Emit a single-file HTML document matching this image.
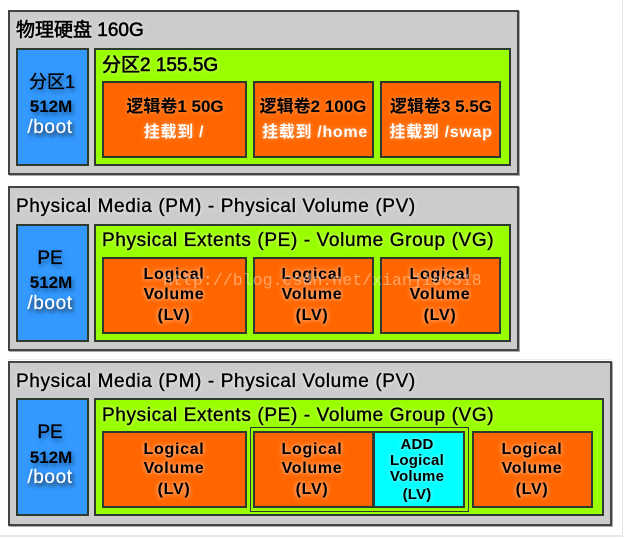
<!DOCTYPE html>
<html>
<head>
<meta charset="utf-8">
<style>
html,body{margin:0;padding:0;background:#fff;width:625px;height:538px;overflow:hidden}
body{position:relative;font-family:"Liberation Sans","Noto Sans CJK SC",sans-serif;color:#000}
.b{position:absolute;box-sizing:border-box;border:2px solid #2e3a2e}
.p{background:#ccc;left:8px;border:2px solid #444;box-shadow:1px 1px 0 #aaa}
.u{background:#3399ff;left:16px;width:73px;height:118px}
.g{background:#99ff00;left:94px;height:118px}
.o{background:#ff6600;height:77px}
.c{background:#00ffff}
.t{position:absolute;white-space:nowrap;transform:translateX(-50%);line-height:1;-webkit-text-stroke:.3px #000}
.l{position:absolute;white-space:nowrap;line-height:1;-webkit-text-stroke:.35px #000}
.h{font-size:19px;text-shadow:0 0 4px #e6e6e6,0 0 4px #e6e6e6;letter-spacing:.62px}
.s{font-size:19px;text-shadow:0 0 4px #ccff66,0 0 4px #ccff66;letter-spacing:.63px}
.h.cn,.s.cn{letter-spacing:0;-webkit-text-stroke:.6px #000}
.w{color:#fff;-webkit-text-stroke:.2px #fff;text-shadow:2px 3px 4px #222}
.d{text-shadow:2px 3px 4px #1c5a9c}
.v{font-size:16px;font-weight:bold;-webkit-text-stroke:0;letter-spacing:.7px;text-shadow:0 0 5px #ffb080,0 0 5px #ffb080}
.a{font-size:15px;font-weight:bold;-webkit-text-stroke:0;letter-spacing:.2px;text-shadow:0 0 4px #aaffff}
.z{font-size:17px;-webkit-text-stroke:0;font-weight:bold;text-shadow:0 0 5px #ffa060}
.y{font-size:16px;letter-spacing:.7px;-webkit-text-stroke:0;font-weight:bold}
.n{font-size:17px;font-weight:bold;-webkit-text-stroke:0}
.r{font-size:19px;letter-spacing:.6px}
.wm{position:absolute;left:163px;top:271px;font:16.6px "Liberation Mono",monospace;color:rgba(255,225,200,.5);white-space:nowrap}
</style>
</head>
<body>
<div style="position:absolute;left:622px;top:0;width:1px;height:536px;background:#e4e4e4"></div>
<div style="position:absolute;left:0;top:535px;width:623px;height:2px;background:#e8e8e8"></div>
<div style="position:absolute;left:8px;top:359px;width:604px;height:1px;background:#eee"></div>

<!-- panel 1 -->
<div class="b p" style="top:10px;width:511px;height:165px"></div>
<div class="l h cn" style="left:16px;top:21px">物理硬盘 160G</div>
<div class="b u" style="top:48px"></div>
<div class="b g" style="top:48px;width:417px"></div>
<div class="l s cn" style="left:102px;top:56px">分区2 155.5G</div>
<div class="b o" style="left:102px;top:81px;width:145px"></div>
<div class="b o" style="left:253px;top:81px;width:121px"></div>
<div class="b o" style="left:380px;top:81px;width:121px"></div>
<div class="t d" style="left:52px;top:73px;font-size:18px">分区1</div>
<div class="t d n" style="left:51px;top:98px">512M</div>
<div class="t w r" style="left:50px;top:118px">/boot</div>
<div class="t z" style="left:175px;top:98px">逻辑卷1 50G</div>
<div class="t z w y" style="left:174px;top:125px">挂载到 /</div>
<div class="t z" style="left:313px;top:98px">逻辑卷2 100G</div>
<div class="t z w y" style="left:315px;top:125px">挂载到 /home</div>
<div class="t z" style="left:441px;top:98px">逻辑卷3 5.5G</div>
<div class="t z w y" style="left:441px;top:125px">挂载到 /swap</div>

<!-- panel 2 -->
<div class="b p" style="top:186px;width:511px;height:165px"></div>
<div class="l h" style="left:16px;top:197px">Physical Media (PM) - Physical Volume (PV)</div>
<div class="b u" style="top:224px"></div>
<div class="b g" style="top:224px;width:417px"></div>
<div class="l s" style="left:102px;top:231px">Physical Extents (PE) - Volume Group (VG)</div>
<div class="b o" style="left:102px;top:257px;width:145px"></div>
<div class="b o" style="left:253px;top:257px;width:121px"></div>
<div class="b o" style="left:380px;top:257px;width:121px"></div>
<div class="t d r" style="left:50px;top:249px;letter-spacing:0">PE</div>
<div class="t d n" style="left:51px;top:274px">512M</div>
<div class="t w r" style="left:50px;top:294px">/boot</div>
<div class="t v" style="left:174px;top:267px">Logical</div>
<div class="t v" style="left:174px;top:287px">Volume</div>
<div class="t v" style="left:174px;top:308px">(LV)</div>
<div class="t v" style="left:312px;top:267px">Logical</div>
<div class="t v" style="left:312px;top:287px">Volume</div>
<div class="t v" style="left:312px;top:308px">(LV)</div>
<div class="t v" style="left:440px;top:267px">Logical</div>
<div class="t v" style="left:440px;top:287px">Volume</div>
<div class="t v" style="left:440px;top:308px">(LV)</div>
<div class="wm">http://blog.csdn.net/xianjie0318</div>

<!-- panel 3 -->
<div class="b p" style="top:361px;width:604px;height:165px"></div>
<div class="l h" style="left:16px;top:372px">Physical Media (PM) - Physical Volume (PV)</div>
<div class="b u" style="top:398px"></div>
<div class="b g" style="top:398px;width:510px"></div>
<div class="l s" style="left:102px;top:406px">Physical Extents (PE) - Volume Group (VG)</div>
<div class="b o" style="left:102px;top:431px;width:145px"></div>
<div class="b" style="left:250px;top:427px;width:219px;height:85px;border-width:1px"></div>
<div class="b o" style="left:253px;top:431px;width:121px"></div>
<div class="b c" style="left:373px;top:431px;width:92px;height:77px"></div>
<div class="b o" style="left:472px;top:431px;width:121px"></div>
<div class="t d r" style="left:50px;top:423px;letter-spacing:0">PE</div>
<div class="t d n" style="left:51px;top:449px">512M</div>
<div class="t w r" style="left:50px;top:468px">/boot</div>
<div class="t v" style="left:174px;top:442px">Logical</div>
<div class="t v" style="left:174px;top:461px">Volume</div>
<div class="t v" style="left:174px;top:482px">(LV)</div>
<div class="t v" style="left:312px;top:442px">Logical</div>
<div class="t v" style="left:312px;top:461px">Volume</div>
<div class="t v" style="left:312px;top:482px">(LV)</div>
<div class="t v" style="left:532px;top:442px">Logical</div>
<div class="t v" style="left:532px;top:461px">Volume</div>
<div class="t v" style="left:532px;top:482px">(LV)</div>
<div class="t a" style="left:417px;top:437px">ADD</div>
<div class="t a" style="left:417px;top:453px">Logical</div>
<div class="t a" style="left:417px;top:469px">Volume</div>
<div class="t a" style="left:417px;top:487px">(LV)</div>
</body>
</html>
